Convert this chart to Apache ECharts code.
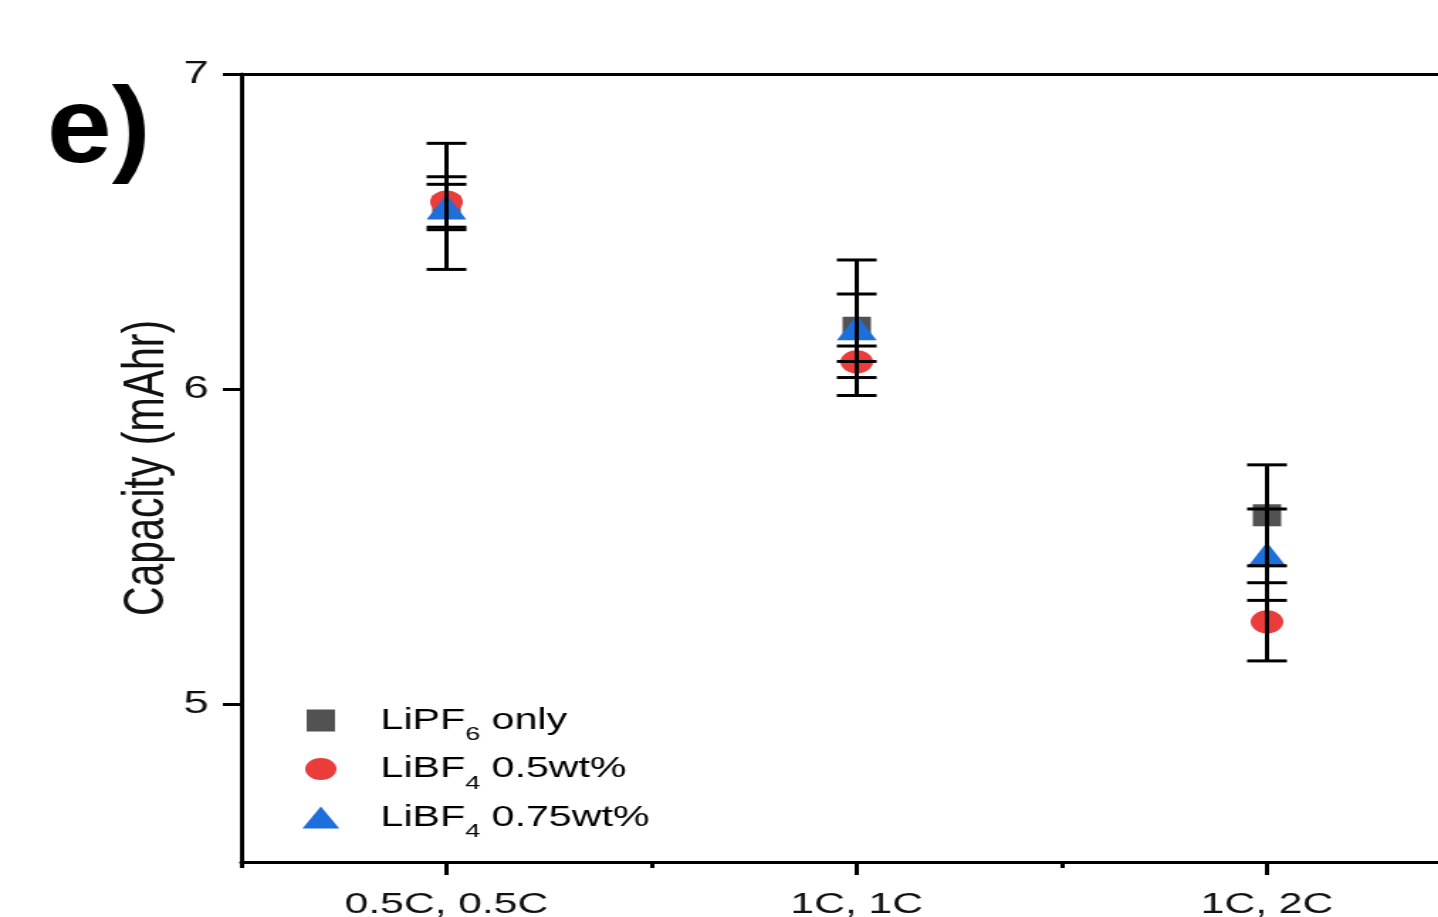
<!DOCTYPE html>
<html>
<head>
<meta charset="utf-8">
<script src="https://cdn.jsdelivr.net/npm/echarts@6/dist/echarts.min.js"></script>
<style>
  html, body { margin: 0; padding: 0; background: #fff; overflow: hidden; }
  /* the source figure is stretched horizontally, so the chart is drawn narrow and scaled in x */
  #main {
    width: 1013px;
    height: 917px;
    transform: scaleX(1.4196);
    transform-origin: 0 0;
  }
</style>
</head>
<body>
<div id="main"></div>
<script>
// categories on the x axis
const categories = ['0.5C, 0.5C', '1C, 1C', '1C, 2C'];
// tick values
const yMajorTicks = [5, 6, 7];
const yMinorTicks = [4.5, 5.5, 6.5];
const xMajorTicks = [1, 2, 3];
const xMinorTicks = [0.5, 1.5, 2.5];

// capacity (mAhr) and error
const lipf6 = [6.58, 6.195, 5.60];
const lipf6Err = [0.20, 0.215, 0.16];
const libf4Half = [6.594, 6.087, 5.262];
const libf4HalfErr = [0.08, 0.05, 0.124];
const libf4ThreeQ = [6.578, 6.195, 5.475];
const libf4ThreeQErr = [0.072, 0.107, 0.145];

const FONT = '"Liberation Sans", Arial, sans-serif';

function points(vals) {
  return vals.map((v, i) => [i + 1, v]);
}
function bars(vals, errs) {
  return vals.map((v, i) => [i + 1, v - errs[i], v + errs[i]]);
}

// error bar with caps
function renderErr(params, api) {
  const x = api.value(0);
  const lo = api.coord([x, api.value(1)]);
  const hi = api.coord([x, api.value(2)]);
  const hw = 14;
  const st = { stroke: '#000', lineWidth: 3 };
  return {
    type: 'group',
    children: [
      { type: 'line', shape: { x1: lo[0], y1: lo[1], x2: hi[0], y2: hi[1] }, style: st },
      { type: 'line', shape: { x1: lo[0] - hw, y1: lo[1], x2: lo[0] + hw, y2: lo[1] }, style: st },
      { type: 'line', shape: { x1: hi[0] - hw, y1: hi[1], x2: hi[0] + hw, y2: hi[1] }, style: st }
    ]
  };
}

const legendText = {
  'LiPF6 only': '{m|LiPF}{s|6}{m| only}',
  'LiBF4 0.5wt%': '{m|LiBF}{s|4}{m| 0.5wt%}',
  'LiBF4 0.75wt%': '{m|LiBF}{s|4}{m| 0.75wt%}'
};

const axisLine = { show: true, lineStyle: { color: '#000', width: 3 } };

const option = {
  animation: false,
  backgroundColor: '#fff',
  grid: { left: 170, right: 0, top: 74, bottom: 55, outerBoundsMode: 'none' },
  graphic: [{
    type: 'text',
    x: 33,
    y: 78,
    scaleX: 0.76,
    style: {
      text: 'e)',
      fontSize: 108,
      fontWeight: 'bold',
      fontFamily: FONT,
      fill: '#000',
      verticalAlign: 'top'
    }
  }],
  legend: {
    orient: 'vertical',
    left: 208,
    top: 701,
    itemWidth: 26,
    itemHeight: 22,
    itemGap: 10,
    formatter: name => legendText[name],
    textStyle: {
      padding: [0, 0, 0, 24],
      rich: {
        m: { fontSize: 29, fontFamily: FONT, color: '#000', lineHeight: 48, verticalAlign: 'middle' },
        s: { fontSize: 19, fontFamily: FONT, color: '#000', lineHeight: 48, verticalAlign: 'bottom' }
      }
    },
    data: [
      { name: 'LiPF6 only', icon: 'path://M0,0h0M3,0h20v22h-20zM26,22h0' },
      { name: 'LiBF4 0.5wt%', icon: 'circle' },
      { name: 'LiBF4 0.75wt%', icon: 'triangle' }
    ]
  },
  xAxis: [
    {
      type: 'value', position: 'bottom', min: 0.5, max: 3.417,
      axisLine: axisLine,
      splitLine: { show: false },
      axisTick: { customValues: xMajorTicks, length: 13, lineStyle: { color: '#000', width: 3 } },
      axisLabel: {
        customValues: xMajorTicks, margin: 28,
        formatter: v => categories[Math.round(v) - 1],
        fontSize: 30, fontFamily: FONT, color: '#111'
      }
    },
    {
      type: 'value', position: 'bottom', min: 0.5, max: 3.417,
      axisLine: { show: false },
      splitLine: { show: false },
      axisTick: { customValues: xMinorTicks, length: 6, lineStyle: { color: '#000', width: 3 } },
      axisLabel: { show: false }
    },
    {
      type: 'value', position: 'top', min: 0.5, max: 3.417,
      axisLine: axisLine,
      splitLine: { show: false },
      axisTick: { show: false },
      axisLabel: { show: false }
    }
  ],
  yAxis: [
    {
      type: 'value', min: 4.5, max: 7,
      name: 'Capacity (mAhr)',
      nameLocation: 'middle',
      nameGap: 46,
      nameMoveOverlap: false,
      nameTextStyle: { fontSize: 41, fontFamily: FONT, color: '#111' },
      axisLine: axisLine,
      splitLine: { show: false },
      axisTick: { customValues: yMajorTicks, length: 13, lineStyle: { color: '#000', width: 3 } },
      axisLabel: { customValues: yMajorTicks, margin: 23, fontSize: 32, fontFamily: FONT, color: '#111' }
    },
    {
      type: 'value', min: 4.5, max: 7,
      axisLine: { show: false },
      splitLine: { show: false },
      axisTick: { customValues: yMinorTicks, length: 6, lineStyle: { color: '#000', width: 3 } },
      axisLabel: { show: false }
    }
  ],
  series: [
    {
      name: 'LiPF6 only', type: 'scatter', data: points(lipf6),
      symbol: 'rect', symbolSize: [20, 22],
      itemStyle: { color: '#525252', opacity: 1 }, z: 2
    },
    {
      name: 'LiBF4 0.5wt%', type: 'scatter', data: points(libf4Half),
      symbol: 'circle', symbolSize: 23,
      itemStyle: { color: '#eb3c3c', opacity: 1 }, z: 3
    },
    {
      name: 'LiBF4 0.75wt%', type: 'scatter', data: points(libf4ThreeQ),
      symbol: 'triangle', symbolSize: [28, 25],
      itemStyle: { color: '#1e6edc', opacity: 1 }, z: 4
    },
    { type: 'custom', renderItem: renderErr, data: bars(lipf6, lipf6Err), z: 5 },
    { type: 'custom', renderItem: renderErr, data: bars(libf4Half, libf4HalfErr), z: 5 },
    { type: 'custom', renderItem: renderErr, data: bars(libf4ThreeQ, libf4ThreeQErr), z: 5 }
  ]
};

const chart = echarts.init(document.getElementById('main'));
chart.setOption(option);
</script>
</body>
</html>
